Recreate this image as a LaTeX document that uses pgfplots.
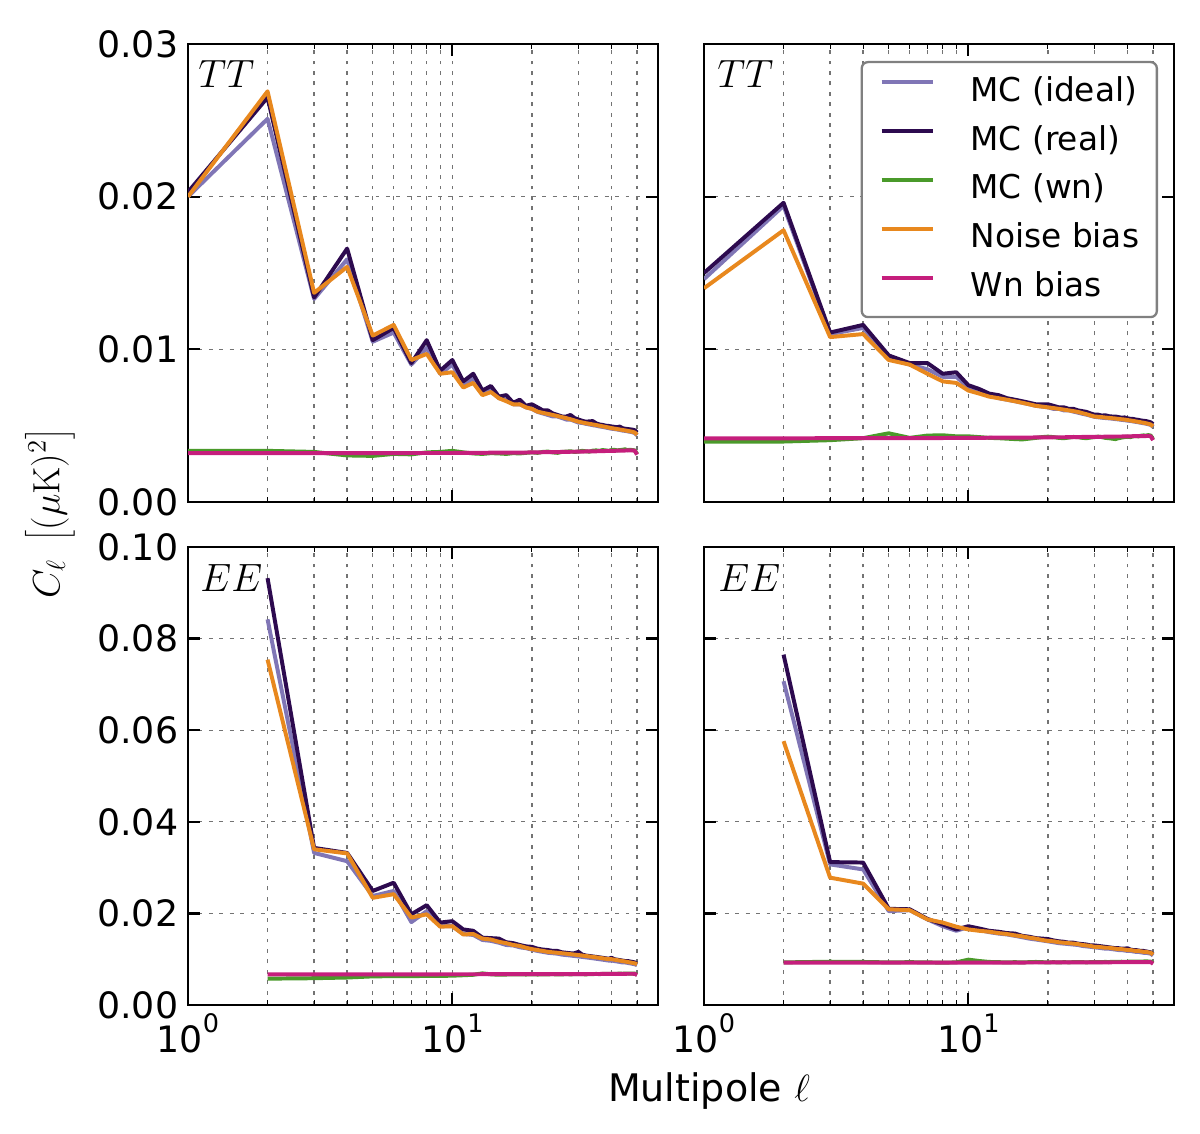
\RequirePackage{fix-cm}
\documentclass[border=0pt]{standalone}
\usepackage[no-math]{fontspec}
\setmainfont{DejaVu Sans}
\usepackage{pgfplots}
\usepackage{pgfplotstable}
\pgfplotsset{compat=1.18}

\definecolor{cideal}{HTML}{8076B6}
\definecolor{creal}{HTML}{2D0A4F}
\definecolor{cwn}{HTML}{4A9A2A}
\definecolor{cnoise}{HTML}{E8881E}
\definecolor{cwnb}{HTML}{C51E7C}

\newcommand\tenpow[1]{10\raisebox{9.6bp}{\fontsize{12.3}{12.3}\selectfont #1}}

\pgfplotstableread{
l I R G N M
1 0.0200 0.0203 0.00335 0.0200 0.00320
2 0.0251 0.0265 0.00335 0.0269 0.00320
3 0.0133 0.0134 0.00328 0.0137 0.00320
4 0.0159 0.0166 0.00305 0.0154 0.00320
5 0.0105 0.0106 0.00302 0.0109 0.00320
6 0.0111 0.0114 0.00315 0.0116 0.00320
7 0.0090 0.0091 0.00312 0.0093 0.00321
8 0.0101 0.0106 0.00325 0.0097 0.00321
9 0.0084 0.0086 0.00328 0.0084 0.00321
10 0.0090 0.0093 0.00335 0.0085 0.00321
11 0.0077 0.0079 0.00325 0.0075 0.00322
12 0.0081 0.0084 0.00318 0.0078 0.00322
13 0.0072 0.0073 0.00315 0.0070 0.00322
14 0.0074 0.0076 0.00320 0.0072 0.00323
15 0.0068 0.0069 0.00318 0.0068 0.00323
16 0.0067 0.0070 0.00315 0.0066 0.00323
17 0.0064 0.0065 0.00320 0.0064 0.00324
18 0.0064 0.0067 0.00318 0.0064 0.00324
19 0.0062 0.0063 0.00322 0.0062 0.00324
20 0.0061 0.0064 0.00325 0.0061 0.00325
21 0.0059 0.0062 0.00322 0.00592 0.00325
22 0.0058 0.0060 0.00328 0.00584 0.00326
23 0.0057 0.0060 0.00330 0.00577 0.00326
24 0.0056 0.0058 0.00325 0.00570 0.00327
25 0.0056 0.0057 0.00322 0.00563 0.00327
26 0.0055 0.0056 0.00328 0.00556 0.00328
27 0.0054 0.0056 0.00330 0.00549 0.00328
28 0.0054 0.0057 0.00332 0.00542 0.00329
29 0.0053 0.0055 0.00328 0.00534 0.00329
30 0.0052 0.0054 0.00330 0.00526 0.00330
31 0.00518 0.00532 0.00335 0.00521 0.00330
32 0.00512 0.00526 0.00332 0.00516 0.00331
33 0.00508 0.00528 0.00330 0.00512 0.00331
34 0.00503 0.00530 0.00336 0.00508 0.00332
35 0.00500 0.00515 0.00338 0.00504 0.00332
36 0.00495 0.00508 0.00335 0.00500 0.00333
37 0.00492 0.00505 0.00340 0.00496 0.00333
38 0.00488 0.00500 0.00338 0.00492 0.00334
39 0.00484 0.00498 0.00335 0.00488 0.00334
40 0.00480 0.00495 0.00340 0.00484 0.00335
41 0.00478 0.00492 0.00342 0.00481 0.00335
42 0.00475 0.00490 0.00338 0.00478 0.00336
43 0.00472 0.00494 0.00340 0.00475 0.00336
44 0.00468 0.00484 0.00342 0.00472 0.00337
45 0.00466 0.00480 0.00345 0.00469 0.00337
46 0.00463 0.00478 0.00340 0.00466 0.00338
47 0.00460 0.00476 0.00342 0.00463 0.00338
48 0.00457 0.00474 0.00340 0.00460 0.00338
49 0.00452 0.00470 0.00338 0.00455 0.00336
50 0.00437 0.00455 0.00315 0.00440 0.00310
}\tTL

\pgfplotstableread{
l I R G N M
1 0.0146 0.0150 0.00396 0.0140 0.00417
2 0.0194 0.0196 0.00396 0.0178 0.00417
3 0.0110 0.0111 0.00405 0.0108 0.00418
4 0.0114 0.0116 0.00418 0.0110 0.00418
5 0.0094 0.0096 0.00450 0.0093 0.00418
6 0.0090 0.0091 0.00420 0.0090 0.00419
7 0.0087 0.0091 0.00435 0.0084 0.00419
8 0.0082 0.0084 0.00437 0.0079 0.00419
9 0.0082 0.0085 0.00430 0.0078 0.00420
10 0.0075 0.00765 0.00430 0.0073 0.00420
11 0.0073 0.0074 0.00425 0.0071 0.00420
12 0.0070 0.0071 0.00420 0.0069 0.00421
13 0.0068 0.0070 0.00418 0.0068 0.00421
14 0.0067 0.0068 0.00415 0.0067 0.00421
15 0.0066 0.0067 0.00412 0.0066 0.00422
16 0.0065 0.0066 0.00410 0.0065 0.00422
17 0.0064 0.0065 0.00415 0.0064 0.00422
18 0.0063 0.0064 0.00420 0.0063 0.00423
19 0.00625 0.0064 0.00425 0.00625 0.00423
20 0.0062 0.0064 0.00428 0.0062 0.00423
21 0.0061 0.0063 0.00425 0.00615 0.00424
22 0.0061 0.0062 0.00420 0.0061 0.00424
23 0.0060 0.0062 0.00418 0.00605 0.00424
24 0.0060 0.0061 0.00422 0.0060 0.00425
25 0.00592 0.0061 0.00426 0.00595 0.00425
26 0.00585 0.0060 0.00425 0.0059 0.00425
27 0.00578 0.00595 0.00420 0.00582 0.00426
28 0.00572 0.0059 0.00418 0.00575 0.00426
29 0.00565 0.0058 0.00422 0.00567 0.00426
30 0.00558 0.00572 0.00425 0.0056 0.00427
31 0.00555 0.00572 0.00428 0.00558 0.00427
32 0.00552 0.00566 0.00425 0.00556 0.00427
33 0.00550 0.00568 0.00420 0.00553 0.00428
34 0.00548 0.00562 0.00418 0.00551 0.00428
35 0.00546 0.00560 0.00415 0.00549 0.00428
36 0.00543 0.00560 0.00412 0.00547 0.00429
37 0.00541 0.00556 0.00418 0.00544 0.00429
38 0.00538 0.00552 0.00422 0.00542 0.00429
39 0.00536 0.00554 0.00425 0.00540 0.00430
40 0.00533 0.00548 0.00428 0.00537 0.00430
41 0.00531 0.00545 0.00425 0.00534 0.00430
42 0.00528 0.00544 0.00430 0.00531 0.00431
43 0.00525 0.00540 0.00432 0.00528 0.00431
44 0.00522 0.00538 0.00430 0.00525 0.00431
45 0.00519 0.00534 0.00434 0.00522 0.00432
46 0.00516 0.00532 0.00436 0.00519 0.00432
47 0.00513 0.00530 0.00435 0.00516 0.00432
48 0.00509 0.00526 0.00438 0.00512 0.00433
49 0.00505 0.00522 0.00435 0.00508 0.00430
50 0.00492 0.00510 0.00410 0.00495 0.00405
}\tTR

\pgfplotstableread{
l I R G N M
2 0.0842 0.0932 0.00575 0.0754 0.00669
3 0.0332 0.0343 0.00585 0.0340 0.00669
4 0.0314 0.0332 0.00600 0.0331 0.00669
5 0.0238 0.0249 0.00625 0.0234 0.00670
6 0.0249 0.0267 0.00630 0.0242 0.00670
7 0.0181 0.0198 0.00630 0.0191 0.00670
8 0.0205 0.0218 0.00635 0.0198 0.00670
9 0.0172 0.0180 0.00635 0.0171 0.00671
10 0.0172 0.0183 0.00640 0.0172 0.00671
11 0.0155 0.0165 0.00650 0.0154 0.00671
12 0.0153 0.0162 0.00660 0.0155 0.00671
13 0.0142 0.0147 0.00690 0.0145 0.00672
14 0.0140 0.0146 0.00670 0.0143 0.00672
15 0.0136 0.0145 0.00660 0.0138 0.00672
16 0.0131 0.0137 0.00665 0.0135 0.00672
17 0.0130 0.0135 0.00670 0.0131 0.00673
18 0.0126 0.0131 0.00668 0.0129 0.00673
19 0.0124 0.0128 0.00665 0.0125 0.00673
20 0.0121 0.0127 0.00670 0.0122 0.00673
21 0.0118 0.0123 0.00665 0.0120 0.00674
22 0.0116 0.0121 0.00668 0.0118 0.00674
23 0.0114 0.0120 0.00670 0.0116 0.00674
24 0.0113 0.0118 0.00672 0.0115 0.00674
25 0.0112 0.0118 0.00668 0.0114 0.00675
26 0.0110 0.0115 0.00670 0.0113 0.00675
27 0.0109 0.0114 0.00672 0.0112 0.00675
28 0.0108 0.0113 0.00670 0.0111 0.00675
29 0.0107 0.0113 0.00672 0.0110 0.00676
30 0.0106 0.0116 0.00675 0.0109 0.00676
31 0.0105 0.0110 0.00672 0.0108 0.00676
32 0.0104 0.0108 0.00670 0.0107 0.00676
33 0.0103 0.0107 0.00672 0.0106 0.00677
34 0.0102 0.0106 0.00675 0.0105 0.00677
35 0.0101 0.0105 0.00678 0.0104 0.00677
36 0.0100 0.0104 0.00675 0.0103 0.00677
37 0.0099 0.0103 0.00678 0.0102 0.00678
38 0.0098 0.0102 0.00680 0.0101 0.00678
39 0.0097 0.0101 0.00678 0.0100 0.00678
40 0.0097 0.0103 0.00682 0.0100 0.00679
41 0.0096 0.0100 0.00680 0.0099 0.00679
42 0.0095 0.0099 0.00682 0.0098 0.00680
43 0.0094 0.0098 0.00685 0.0097 0.00680
44 0.0093 0.0097 0.00682 0.0096 0.00681
45 0.0093 0.0096 0.00685 0.0095 0.00681
46 0.0092 0.0096 0.00688 0.0094 0.00682
47 0.0091 0.0095 0.00685 0.0093 0.00682
48 0.0090 0.0094 0.00688 0.0092 0.00682
49 0.0089 0.0093 0.00685 0.0091 0.00680
50 0.0087 0.0090 0.00660 0.0089 0.00655
}\tBL

\pgfplotstableread{
l I R G N M
2 0.0707 0.0765 0.00930 0.0576 0.00924
3 0.0307 0.0312 0.00945 0.0278 0.00924
4 0.0296 0.0311 0.00940 0.0265 0.00924
5 0.0205 0.0210 0.00930 0.0209 0.00925
6 0.0207 0.0209 0.00935 0.0207 0.00925
7 0.0187 0.0188 0.00930 0.0187 0.00925
8 0.0172 0.0176 0.00925 0.0180 0.00925
9 0.0162 0.0165 0.00930 0.0171 0.00926
10 0.0170 0.0172 0.00990 0.0165 0.00926
11 0.0164 0.0167 0.00960 0.0162 0.00926
12 0.0159 0.0162 0.00940 0.0160 0.00926
13 0.0156 0.0160 0.00935 0.0157 0.00927
14 0.0154 0.0157 0.00930 0.0155 0.00927
15 0.0151 0.0156 0.00935 0.0152 0.00927
16 0.0148 0.0151 0.00930 0.0150 0.00927
17 0.0145 0.0149 0.00935 0.0147 0.00928
18 0.0143 0.0146 0.00940 0.0145 0.00928
19 0.0141 0.0145 0.00935 0.0142 0.00928
20 0.0139 0.0144 0.00930 0.0140 0.00928
21 0.0137 0.0141 0.00935 0.0139 0.00929
22 0.0135 0.0139 0.00930 0.0137 0.00929
23 0.0134 0.0138 0.00935 0.0136 0.00929
24 0.0133 0.0136 0.00932 0.0135 0.00929
25 0.0132 0.0136 0.00935 0.0134 0.00930
26 0.0131 0.0134 0.00938 0.0133 0.00930
27 0.0129 0.0133 0.00935 0.0131 0.00930
28 0.0128 0.0132 0.00932 0.0130 0.00930
29 0.0127 0.0130 0.00935 0.0129 0.00931
30 0.0126 0.0130 0.00938 0.0127 0.00931
31 0.0125 0.0129 0.00935 0.0127 0.00931
32 0.0124 0.0128 0.00938 0.0126 0.00932
33 0.0123 0.0127 0.00940 0.0125 0.00932
34 0.0123 0.0126 0.00938 0.0125 0.00932
35 0.0122 0.0125 0.00942 0.0124 0.00933
36 0.0121 0.0124 0.00940 0.0123 0.00933
37 0.0120 0.0124 0.00942 0.0122 0.00933
38 0.0120 0.0123 0.00945 0.0122 0.00934
39 0.0119 0.0123 0.00942 0.0121 0.00934
40 0.0118 0.0124 0.00945 0.0120 0.00934
41 0.0118 0.0121 0.00948 0.0120 0.00935
42 0.0117 0.0120 0.00945 0.0119 0.00935
43 0.0116 0.0120 0.00948 0.0118 0.00935
44 0.0116 0.0119 0.00950 0.0118 0.00936
45 0.0115 0.0118 0.00948 0.0117 0.00936
46 0.0114 0.0118 0.00950 0.0116 0.00937
47 0.0114 0.0117 0.00952 0.0116 0.00937
48 0.0113 0.0116 0.00950 0.0115 0.00937
49 0.0112 0.0115 0.00948 0.0114 0.00935
50 0.0108 0.0111 0.00910 0.0110 0.00900
}\tBR

\pgfkeys{/pgf/number format/.cd, assume math mode=true, fixed, fixed zerofill, precision=2}

\pgfplotsset{
  every axis/.append style={
    scale only axis, width=225.6bp, height=219.84bp,
    xtick={1,10}, minor xtick={2,3,4,5,6,7,8,9,20,30,40,50},
    grid=both,
    grid style={black!55, line width=0.65bp, dash pattern=on 1.9bp off 3.1bp},
    tick align=inside,
    major tick length=5.8bp, minor tick length=2.2bp,
    major tick style={line width=1.1bp, black},
    minor tick style={line width=0.5bp, black},
    axis line style={line width=1.3bp},
    ticklabel style={font=\fontsize{17.5}{17.5}\selectfont},
    scaled y ticks=false,
    yticklabel style={anchor=east, inner sep=0pt, xshift=-4.5bp},
    xticklabel style={anchor=base, inner sep=0pt, yshift=-22.6bp},
  },
  every axis plot/.append style={line width=1.9bp, line join=round},
}

\begin{document}
\begin{tikzpicture}
\path[use as bounding box] (0,0) rectangle (576bp,544.32bp);

% top left
\begin{axis}[xmode=log, xmin=1, xmax=60, ymin=0, ymax=0.03, ytick={0,0.01,0.02,0.03}, xticklabels={},
  at={(90.24bp,303.36bp)}, anchor=south west]
\addplot[cideal] table[x=l,y=I]{\tTL};
\addplot[creal] table[x=l,y=R]{\tTL};
\addplot[cwn] table[x=l,y=G]{\tTL};
\addplot[cnoise] table[x=l,y=N]{\tTL};
\addplot[cwnb] table[x=l,y=M]{\tTL};
\node[anchor=base west, inner sep=0pt, xshift=4.8bp, yshift=-21.12bp, font=\fontsize{19}{19}\selectfont] at (rel axis cs:0,1) {$TT$};
\end{axis}

% top right
\begin{axis}[xmode=log, xmin=1, xmax=60, ymin=0, ymax=0.03, ytick={0,0.01,0.02,0.03}, xticklabels={}, yticklabels={},
  at={(337.92bp,303.36bp)}, anchor=south west,
  legend style={at={(0.966,0.963)}, anchor=north east, draw=black!50, line width=1.1bp,
    rounded corners=3bp, fill=white, font=\fontsize{15.8}{15.8}\selectfont,
    inner xsep=8.5bp, inner ysep=7.2bp, row sep=9.5bp,
    nodes={inner sep=0pt, text height=11.5bp, text depth=2.5bp},
    /tikz/every odd column/.append style={column sep=17.3bp}},
  legend cell align=left,
  legend image code/.code={\draw[#1, line width=2bp, rounded corners=0pt] (0bp,4.5bp) -- (24.5bp,4.5bp);}]
\addplot[cideal] table[x=l,y=I]{\tTR};
\addplot[creal] table[x=l,y=R]{\tTR};
\addplot[cwn] table[x=l,y=G]{\tTR};
\addplot[cnoise] table[x=l,y=N]{\tTR};
\addplot[cwnb] table[x=l,y=M]{\tTR};
\legend{MC (ideal), MC (real), MC (wn), Noise bias, Wn bias}
\node[anchor=base west, inner sep=0pt, xshift=6.24bp, yshift=-21.12bp, font=\fontsize{19}{19}\selectfont] at (rel axis cs:0,1) {$TT$};
\end{axis}

% bottom left
\begin{axis}[xmode=log, xmin=1, xmax=60, ymin=0, ymax=0.1, ytick={0,0.02,0.04,0.06,0.08,0.1},
  xticklabels={\tenpow{0},\tenpow{1}},
  at={(90.24bp,61.92bp)}, anchor=south west]
\addplot[cideal] table[x=l,y=I]{\tBL};
\addplot[creal] table[x=l,y=R]{\tBL};
\addplot[cwn] table[x=l,y=G]{\tBL};
\addplot[cnoise] table[x=l,y=N]{\tBL};
\addplot[cwnb] table[x=l,y=M]{\tBL};
\node[anchor=base west, inner sep=0pt, xshift=5.76bp, yshift=-21.6bp, font=\fontsize{19}{19}\selectfont] at (rel axis cs:0,1) {$EE$};
\end{axis}

% bottom right
\begin{axis}[xmode=log, xmin=1, xmax=60, ymin=0, ymax=0.1, ytick={0,0.02,0.04,0.06,0.08,0.1},
  xticklabels={\tenpow{0},\tenpow{1}}, yticklabels={},
  at={(337.92bp,61.92bp)}, anchor=south west]
\addplot[cideal] table[x=l,y=I]{\tBR};
\addplot[creal] table[x=l,y=R]{\tBR};
\addplot[cwn] table[x=l,y=G]{\tBR};
\addplot[cnoise] table[x=l,y=N]{\tBR};
\addplot[cwnb] table[x=l,y=M]{\tBR};
\node[anchor=base west, inner sep=0pt, xshift=6.72bp, yshift=-21.6bp, font=\fontsize{19}{19}\selectfont] at (rel axis cs:0,1) {$EE$};
\end{axis}

\node[anchor=base, inner sep=0pt, font=\fontsize{18.3}{18.3}\selectfont] at (340.32bp,15.84bp) {Multipole $\ell$};
\node[rotate=90, inner sep=0pt, font=\fontsize{18.3}{18.3}\selectfont] at (24bp,297.84bp) {$C_\ell\ \left[(\mu\mathrm{K})^2\right]$};
\end{tikzpicture}
\end{document}
